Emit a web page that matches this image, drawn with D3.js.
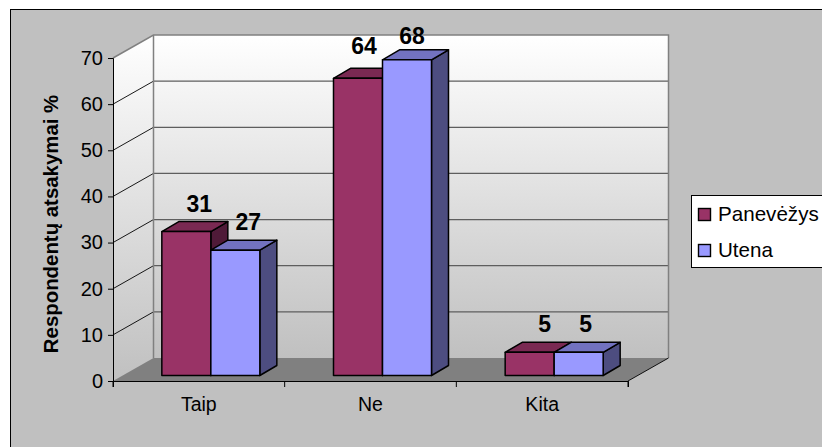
<!DOCTYPE html>
<html lang="en">
<head>
<meta charset="UTF-8">
<script src="https://d3js.org/d3.v7.min.js"></script>
<title>Respondentų atsakymai</title>
<style>
    html, body { margin: 0; padding: 0; background: #fff; }
    svg { display: block; }
    text { font-family: "Liberation Sans", Arial, sans-serif; fill: #000; }
</style>
</head>
<body>
<svg width="822" height="447"></svg>
<script>
var categories = ["Taip", "Ne", "Kita"];
var seriesNames = ["Panevėžys", "Utena"];
var panevezys = [31, 64, 5];
var utena = [27, 68, 5];
var yTicks = [0, 10, 20, 30, 40, 50, 60, 70];

var colors = [
    { front: "#993366", top: "#7a2952", side: "#4f1a38" },
    { front: "#9999ff", top: "#7272c0", side: "#4d4d80" }
];

var svg = d3.select("svg");

// chart frame, runs off the right and bottom of the picture
svg.append("rect").attr("x", 10.5).attr("y", 9.5).attr("width", 830).attr("height", 450)
    .attr("fill", "#c0c0c0").attr("stroke", "#000");

// floor line is y(0), wall is pushed back by depth
var plotLeft = 113, plotRight = 628, plotTop = 58, plotBottom = 381;
var depthX = 40.5, depthY = -23;

var y = d3.scaleLinear().domain([0, 70]).range([plotBottom, plotTop]);
var x = d3.scaleBand().domain(categories).range([plotLeft, plotRight]);

var defs = svg.append("defs");
var grad = defs.append("linearGradient").attr("id", "wall").attr("x1", 0).attr("y1", 0).attr("x2", 0).attr("y2", 1);
grad.append("stop").attr("offset", "0%").attr("stop-color", "#ffffff");
grad.append("stop").attr("offset", "100%").attr("stop-color", "#c0c0c0");

function pts(a) { return a.map(function(p) { return p.join(","); }).join(" "); }

// back wall + side wall
svg.append("rect")
    .attr("x", plotLeft + depthX).attr("y", plotTop + depthY)
    .attr("width", plotRight - plotLeft).attr("height", plotBottom - plotTop)
    .attr("fill", "url(#wall)");
svg.append("polygon")
    .attr("points", pts([[plotLeft, plotTop], [plotLeft + depthX, plotTop + depthY], [plotLeft + depthX, plotBottom + depthY], [plotLeft, plotBottom]]))
    .attr("fill", "url(#wall)");

// floor
svg.append("polygon")
    .attr("points", pts([[plotLeft, plotBottom], [plotLeft + depthX, plotBottom + depthY], [plotRight + depthX, plotBottom + depthY], [plotRight, plotBottom]]))
    .attr("fill", "#808080");

// gridlines
yTicks.slice(1, -1).forEach(function(d) {
    svg.append("line")
        .attr("x1", plotLeft + depthX).attr("x2", plotRight + depthX)
        .attr("y1", y(d) + depthY).attr("y2", y(d) + depthY)
        .attr("stroke", "#5e5e5e").attr("stroke-width", 1.2);
    svg.append("line")
        .attr("x1", plotLeft).attr("x2", plotLeft + depthX)
        .attr("y1", y(d)).attr("y2", y(d) + depthY)
        .attr("stroke", "#000").attr("stroke-width", 0.9);
});

// wall outline
svg.append("polyline")
    .attr("points", pts([[plotLeft, plotTop], [plotLeft + depthX, plotTop + depthY], [plotRight + depthX, plotTop + depthY], [plotRight + depthX, plotBottom + depthY]]))
    .attr("fill", "none").attr("stroke", "#808080").attr("stroke-width", 1.5);
svg.append("line")
    .attr("x1", plotLeft + depthX).attr("x2", plotLeft + depthX)
    .attr("y1", plotTop + depthY).attr("y2", plotBottom + depthY)
    .attr("stroke", "#808080").attr("stroke-width", 1.5);
svg.append("line")
    .attr("x1", plotRight).attr("x2", plotRight + depthX)
    .attr("y1", plotBottom).attr("y2", plotBottom + depthY)
    .attr("stroke", "#000").attr("stroke-width", 0.9);

// axes
var yAxis = d3.axisLeft(y).tickValues(yTicks).tickSize(5).tickPadding(5);
var gy = svg.append("g").attr("transform", "translate(" + plotLeft + ",0)").call(yAxis);
gy.selectAll("text").style("font-size", "20px");

var xAxis = d3.axisBottom(x).tickSize(6).tickPadding(10);
var gx = svg.append("g").attr("transform", "translate(0," + plotBottom + ")").call(xAxis);
gx.selectAll(".tick line").remove();
gx.selectAll("text").style("font-size", "19.5px");
[plotLeft, plotLeft + x.step(), plotLeft + 2 * x.step(), plotRight].forEach(function(t) {
    gx.append("line").attr("x1", t).attr("x2", t).attr("y1", 0).attr("y2", 6).attr("stroke", "#000");
});
gy.selectAll("path, line").attr("stroke", "#000");
gx.selectAll("path").attr("stroke", "#000");

svg.append("text")
    .attr("transform", "translate(58,224) rotate(-90)")
    .attr("text-anchor", "middle")
    .style("font-size", "20.4px").style("font-weight", "bold")
    .text("Respondentų atsakymai %");

// bars
var barDepthX = 17, barDepthY = -10, floorOff = -5.5, frontOff = 13;
var x1 = d3.scaleBand().domain([0, 1]).range([0, 98]);
var barY = d3.scaleLinear().domain([0, 70]).range([plotBottom + floorOff, plotTop + floorOff - 2]);

var series = [panevezys, utena];
var stroke = { stroke: "#000", "stroke-width": 1.5, "stroke-linejoin": "round" };

function face(points, fill) {
    var p = svg.append("polygon").attr("points", pts(points)).attr("fill", fill);
    Object.keys(stroke).forEach(function(k) { p.attr(k, stroke[k]); });
}

categories.forEach(function(cat, c) {
    var cx = x(cat) + (x.bandwidth() - 98) / 2 + frontOff - 1;
    series.forEach(function(vals, s) {
        var x0 = cx + x1(s), w = x1.bandwidth();
        var yt = barY(vals[c]), yb = barY(0);
        var col = colors[s];
        face([[x0 + w, yt], [x0 + w + barDepthX, yt + barDepthY], [x0 + w + barDepthX, yb + barDepthY], [x0 + w, yb]], col.side);
        face([[x0, yt], [x0 + barDepthX, yt + barDepthY], [x0 + w + barDepthX, yt + barDepthY], [x0 + w, yt]], col.top);
        face([[x0, yt], [x0 + w, yt], [x0 + w, yb], [x0, yb]], col.front);
    });
});

// value labels on top so they stay readable; nudges by hand per bar
var nudgeX = [[0, -7, 2], [0, -8, -6]];
var nudgeY = [[0, -4, 0], [0, 4, 0]];
categories.forEach(function(cat, c) {
    var cx = x(cat) + (x.bandwidth() - 98) / 2 + frontOff - 1;
    series.forEach(function(vals, s) {
        svg.append("text")
            .attr("x", cx + x1(s) + x1.bandwidth() / 2 + 13 + nudgeX[s][c])
            .attr("y", barY(vals[c]) - 20 + nudgeY[s][c])
            .attr("text-anchor", "middle")
            .style("font-size", "23px").style("font-weight", "bold")
            .text(vals[c]);
    });
});

// legend
var legend = svg.append("g").attr("transform", "translate(691,195)");
legend.append("rect").attr("x", 0.5).attr("y", 0.5).attr("width", 140).attr("height", 72)
    .attr("fill", "#fff").attr("stroke", "#000");
seriesNames.forEach(function(name, i) {
    var ly = 19.5 + i * 36;
    legend.append("rect").attr("x", 7.5).attr("y", ly - 6).attr("width", 12).attr("height", 12)
        .attr("fill", colors[i].front).attr("stroke", "#000").attr("stroke-width", 1.4);
    legend.append("text").attr("x", 27).attr("y", ly + 6.5).style("font-size", "20.6px").text(name);
});
</script>
</body>
</html>
